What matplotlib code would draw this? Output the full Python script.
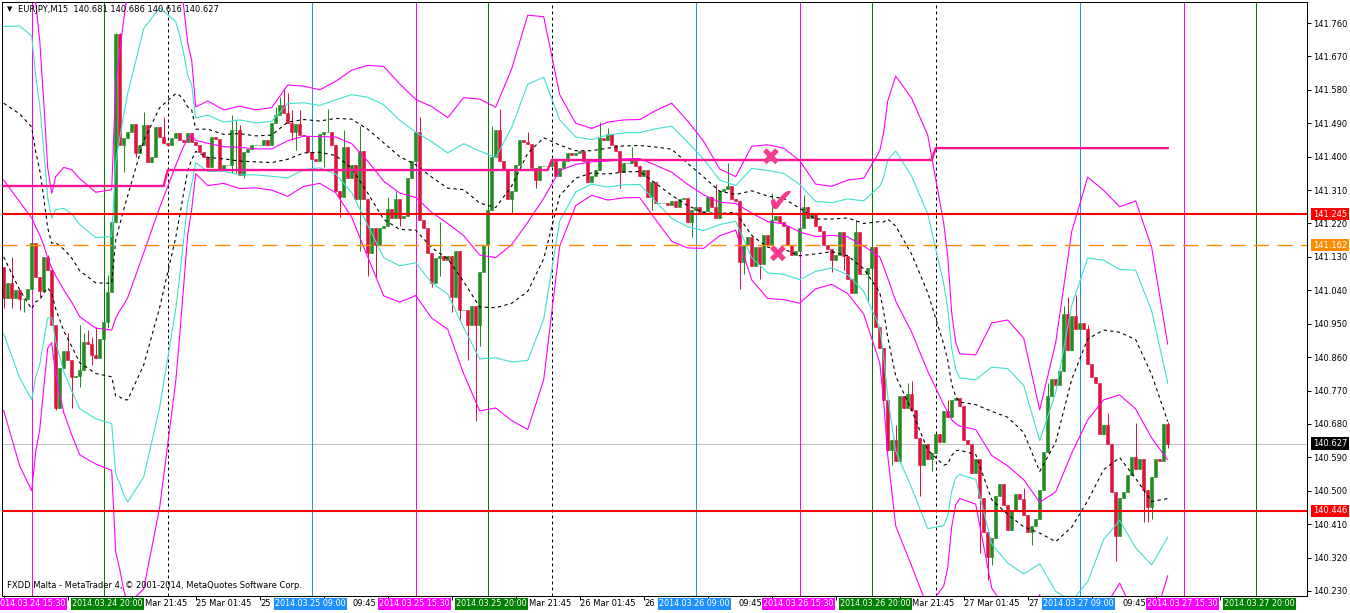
import matplotlib
matplotlib.use("Agg")
import matplotlib.pyplot as plt
import numpy as np


# EURJPY M15, bar 0 = 2014.03.24 15:30, one bar every 15 minutes
FIRST_BAR = -7
FIRST_OPEN = 141.103

CLOSES = [
    141.019, 141.060, 141.019, 141.041, 141.017, 141.017, 141.044, 141.167, 141.076, 141.038,
    141.130, 141.095, 140.947, 140.723, 140.831, 140.877, 140.852, 140.806, 140.809, 140.825,
    140.901, 140.895, 140.866, 140.858, 140.909, 140.955, 141.035, 141.224, 141.730, 141.431,
    141.450, 141.466, 141.488, 141.410, 141.431, 141.485, 141.386, 141.399, 141.480, 141.453,
    141.437, 141.431, 141.450, 141.464, 141.445, 141.440, 141.464, 141.440, 141.431, 141.413,
    141.399, 141.372, 141.453, 141.448, 141.364, 141.378, 141.378, 141.472, 141.472, 141.351,
    141.413, 141.421, 141.431, 141.431, 141.431, 141.445, 141.431, 141.491, 141.512, 141.539,
    141.518, 141.491, 141.466, 141.488, 141.458, 141.456, 141.413, 141.394, 141.388, 141.461,
    141.466, 141.466, 141.431, 141.308, 141.291, 141.426, 141.343, 141.378, 141.286, 141.415,
    141.286, 141.141, 141.208, 141.162, 141.208, 141.213, 141.259, 141.235, 141.286, 141.235,
    141.240, 141.343, 141.388, 141.466, 141.229, 141.208, 141.141, 141.060, 141.127, 141.132,
    141.122, 141.132, 141.022, 141.146, 140.987, 140.987, 140.947, 140.998, 140.947, 141.089,
    141.162, 141.256, 141.399, 141.472, 141.388, 141.364, 141.286, 141.308, 141.378, 141.445,
    141.440, 141.434, 141.369, 141.337, 141.375, 141.375, 141.375, 141.388, 141.348, 141.369,
    141.388, 141.410, 141.404, 141.410, 141.415, 141.388, 141.332, 141.348, 141.364, 141.450,
    141.445, 141.461, 141.431, 141.415, 141.359, 141.383, 141.383, 141.388, 141.375, 141.348,
    141.364, 141.291, 141.332, 141.275, 141.275, 141.275, 141.270, 141.281, 141.264, 141.286,
    141.289, 141.224, 141.256, 141.264, 141.251, 141.254, 141.291, 141.264, 141.235, 141.308,
    141.313, 141.321, 141.286, 141.281, 141.116, 141.162, 141.184, 141.105, 141.157, 141.111,
    141.189, 141.162, 141.229, 141.240, 141.224, 141.213, 141.162, 141.135, 141.146, 141.208,
    141.264, 141.235, 141.246, 141.213, 141.200, 141.162, 141.151, 141.122, 141.135, 141.197,
    141.132, 141.070, 141.033, 141.197, 141.084, 141.084, 141.100, 141.157, 140.941, 140.885,
    140.744, 140.610, 140.637, 140.580, 140.755, 140.723, 140.761, 140.718, 140.642, 140.569,
    140.626, 140.586, 140.602, 140.653, 140.631, 140.715, 140.699, 140.744, 140.750, 140.728,
    140.637, 140.626, 140.548, 140.586, 140.481, 140.389, 140.322, 140.373, 140.486, 140.518,
    140.462, 140.394, 140.446, 140.491, 140.478, 140.435, 140.389, 140.405, 140.424, 140.502,
    140.604, 140.755, 140.801, 140.785, 140.823, 140.976, 140.879, 140.971, 140.936, 140.952,
    140.936, 140.842, 140.806, 140.790, 140.653, 140.677, 140.626, 140.497, 140.378, 140.481,
    140.497, 140.542, 140.591, 140.559, 140.586, 140.502, 140.456, 140.537, 140.586, 140.580,
    140.681, 140.627,
]

# visible wicks (bar -> price)
HIGHS = {
    -5: 141.130, 4: 141.135, 9: 140.925, 12: 140.947, 13: 140.925, 14: 140.933,
    15: 140.914, 16: 140.941, 19: 141.081, 21: 141.733, 22: 141.733, 28: 141.520,
    33: 141.507, 50: 141.512, 51: 141.499, 52: 141.485, 61: 141.534, 62: 141.561,
    63: 141.585, 64: 141.571, 65: 141.526, 67: 141.526, 74: 141.528, 78: 141.472,
    82: 141.483, 89: 141.291, 91: 141.308, 97: 141.507, 102: 141.224, 115: 141.483,
    117: 141.528, 124: 141.466, 142: 141.493, 144: 141.477, 150: 141.426,
    171: 141.326, 174: 141.383, 185: 141.302, 193: 141.297, 206: 141.229,
    216: 140.677, 219: 140.790, 220: 140.796, 229: 140.744, 248: 140.507,
    254: 140.790, 258: 140.998, 259: 141.022, 261: 141.027, 264: 140.947,
    269: 140.709, 276: 140.683, 284: 140.686,
}
LOWS = {
    -7: 140.992, -5: 140.992, -3: 140.987, -2: 140.982, 2: 141.022, 6: 140.718,
    10: 140.723, 12: 140.780, 15: 140.839, 19: 140.938, 23: 141.359, 26: 141.399,
    50: 141.356, 51: 141.356, 53: 141.343, 65: 141.445, 66: 141.418, 73: 141.372,
    77: 141.237, 82: 141.146, 84: 141.079, 86: 141.076, 92: 141.213, 100: 141.049,
    102: 141.079, 105: 140.982, 107: 140.960, 109: 140.852, 111: 140.688,
    112: 140.890, 120: 141.246, 126: 141.316, 147: 141.316, 155: 141.256,
    165: 141.184, 177: 141.044, 178: 141.084, 182: 141.070, 200: 141.089,
    203: 141.095, 209: 141.008, 215: 140.569, 222: 140.486, 225: 140.553,
    237: 140.332, 239: 140.260, 240: 140.299, 250: 140.354, 271: 140.311,
    278: 140.416, 279: 140.416, 280: 140.424, 284: 140.616,
}

# Bollinger bands: middle line and one deviation, read at these bars
BB_BARS = [
    -7, -3, 0, 1, 2, 3, 4, 5, 6, 8, 10, 12, 16, 20, 21, 22, 23, 24, 28, 32,
    36, 37, 38, 39, 40, 41, 44, 48, 52, 56, 60, 64, 68, 72, 76, 80, 84, 88, 92, 96,
    100, 104, 108, 112, 116, 120, 124, 128, 132, 136, 140, 144, 148, 152, 156, 160,
    164, 168, 172, 176, 180, 184, 188, 192, 196, 200, 204, 208, 212, 213, 214, 216,
    220, 224, 228, 229, 230, 231, 232, 236, 240, 244, 248, 252, 256, 260, 264, 268,
    272, 276, 280, 284,
]
BB_MID = [
    141.337, 141.278, 141.235, 141.211, 141.189, 141.162, 141.127, 141.100, 141.079, 141.041,
    141.008, 140.969, 140.938, 140.933, 140.965, 140.985, 141.001, 141.020, 141.141, 141.263,
    141.376, 141.403, 141.428, 141.448, 141.459, 141.444, 141.436, 141.427, 141.425, 141.421,
    141.421, 141.443, 141.455, 141.454, 141.453, 141.435, 141.388, 141.334, 141.302, 141.290,
    141.250, 141.220, 141.187, 141.135, 141.128, 141.163, 141.223, 141.288, 141.363, 141.379,
    141.386, 141.388, 141.394, 141.395, 141.377, 141.358, 141.325, 141.297, 141.277, 141.274,
    141.248, 141.225, 141.219, 141.197, 141.185, 141.188, 141.184, 141.159, 141.130, 141.103,
    141.073, 141.011, 140.927, 140.822, 140.732, 140.712, 140.691, 140.681, 140.674, 140.665,
    140.595, 140.567, 140.530, 140.469, 140.497, 140.601, 140.691, 140.745, 140.758, 140.720,
    140.642, 140.583,
]
BB_DEV = [
    0.207, 0.237, 0.245, 0.202, 0.175, 0.129, 0.081, 0.067, 0.089, 0.110,
    0.119, 0.124, 0.122, 0.126, 0.210, 0.232, 0.256, 0.275, 0.302, 0.269,
    0.194, 0.162, 0.125, 0.086, 0.067, 0.030, 0.038, 0.033, 0.037, 0.035,
    0.037, 0.050, 0.045, 0.042, 0.050, 0.066, 0.086, 0.103, 0.098, 0.088,
    0.095, 0.095, 0.124, 0.140, 0.135, 0.158, 0.186, 0.163, 0.068, 0.037,
    0.030, 0.035, 0.035, 0.035, 0.049, 0.062, 0.057, 0.048, 0.030, 0.024,
    0.060, 0.069, 0.068, 0.064, 0.047, 0.044, 0.051, 0.061, 0.095, 0.121,
    0.159, 0.202, 0.210, 0.212, 0.163, 0.140, 0.096, 0.073, 0.065, 0.067,
    0.119, 0.131, 0.127, 0.083, 0.134, 0.199, 0.218, 0.188, 0.169, 0.187,
    0.171, 0.104,
]

# daily pivot-style level, one value per day
PIVOT_START = [-7, 34, 130, 226]
PIVOT_LEVEL = [141.321, 141.364, 141.391, 141.423]
LAST_BAR = 284

RED_LEVELS = [141.245, 140.446]
ORANGE_LEVEL = 141.162
BID = 140.627
HEADER = "EURJPY,M15  140.681 140.686 140.616 140.627"
FOOTER = "FXDD Malta - MetaTrader 4, \u00a9 2001-2014, MetaQuotes Software Corp."

SESSION_BARS = [0, 18, 70, 96, 114, 166, 192, 210, 262, 288, 306]
SESSION_TEXT = [
    "2014.03.24 15:30", "2014.03.24 20:00", "2014.03.25 09:00", "2014.03.25 15:30",
    "2014.03.25 20:00", "2014.03.26 09:00", "2014.03.26 15:30", "2014.03.26 20:00",
    "2014.03.27 09:00", "2014.03.27 15:30", "2014.03.27 20:00",
]
SESSION_KIND = ["ny", "close", "eu", "ny", "close", "eu", "ny", "close", "eu", "ny", "close"]
DAY_BARS = [34, 130, 226]

# time scale ticks every 16 bars; only the parts of the labels left uncovered
# by the session boxes are visible
TIME_TICK_BARS = [-7, 9, 25, 41, 57, 73, 89, 105, 121, 137, 153, 169, 185, 201, 217, 233,
                  249, 265, 281, 297]
TIME_LABEL_BARS = [28.4, 41.1, 57.1, 80.2, 124.3, 137.1, 153.1, 176.6, 220.1, 233.1,
                   249.1, 272.6]
TIME_LABEL_TEXT = ["Mar 21:45", "25 Mar 01:45", "25", "09:45",
                   "Mar 21:45", "26 Mar 01:45", "26", "09:45",
                   "Mar 21:45", "27 Mar 01:45", "27", "09:45"]

PRICE_TICKS = [140.230, 140.320, 140.410, 140.500, 140.590, 140.680, 140.770, 140.860,
               140.950, 141.040, 141.130, 141.220, 141.310, 141.400, 141.490, 141.580,
               141.670, 141.760]

MARK_TEXT = ["\u2716", "\u2714", "\u2716"]
MARK_BAR = [184.8, 187.0, 186.6]
MARK_PRICE = [141.395, 141.276, 141.134]


BULL = "#228B22"
BEAR = "#DC143C"
MAGENTA = "#FF00FF"
CYAN = "#40E0D0"
SESSION_COLORS = {"ny": "#FF00FF", "close": "#008000", "eu": "#1E90FF"}
SESSION_SHIFT = {"ny": -0.3, "close": 0.95, "eu": -0.3}

W, H = 1350, 613
PX = 0.72  # one pixel in points


def candle_arrays():
    closes = np.array(CLOSES)
    bars = np.arange(FIRST_BAR, FIRST_BAR + len(closes))
    opens = np.concatenate([[FIRST_OPEN], closes[:-1]])
    highs = np.maximum(opens, closes)
    lows = np.minimum(opens, closes)
    for bar, value in HIGHS.items():
        highs[bar - FIRST_BAR] = max(highs[bar - FIRST_BAR], value)
    for bar, value in LOWS.items():
        lows[bar - FIRST_BAR] = min(lows[bar - FIRST_BAR], value)
    return bars, opens, highs, lows, closes


def draw_candles(ax):
    bars, opens, highs, lows, closes = candle_arrays()
    up = closes >= opens
    for mask, color in [(up, BULL), (~up, BEAR)]:
        ax.vlines(bars[mask], lows[mask], highs[mask], color=color, lw=PX, zorder=2)
        ax.bar(bars[mask], closes[mask] - opens[mask], bottom=opens[mask], width=0.72,
               color=color, edgecolor=color, linewidth=0.4, zorder=2)


def draw_bands(ax):
    x = np.array(BB_BARS)
    mid = np.array(BB_MID)
    dev = np.array(BB_DEV)
    ax.plot(x, mid, color=MAGENTA, lw=0.8, zorder=3)
    for k, color, style in [(1, "black", (0, (3, 3))), (2, CYAN, "-"), (3, MAGENTA, "-")]:
        ax.plot(x, mid + k * dev, color=color, lw=0.8, ls=style, zorder=3)
        ax.plot(x, mid - k * dev, color=color, lw=0.8, ls=style, zorder=3)


def draw_levels(ax):
    px, py = [], []
    ends = PIVOT_START[1:] + [LAST_BAR + 1]
    for start, end, level in zip(PIVOT_START, ends, PIVOT_LEVEL):
        px += [start, end - 1]
        py += [level, level]
    ax.plot(px, py, color="#FF1493", lw=1.7, zorder=4)

    for level in RED_LEVELS:
        ax.axhline(level, color="#FF0000", lw=1.5, zorder=4)
    ax.axhline(ORANGE_LEVEL, color="#FF8C00", lw=1.0, ls=(0, (11, 6)), zorder=4)
    ax.axhline(BID, color="#C0C0C0", lw=PX, zorder=1)

    for bar, kind in zip(SESSION_BARS, SESSION_KIND):
        ax.axvline(bar, color=SESSION_COLORS[kind], lw=PX, zorder=1)
    for bar in DAY_BARS:
        ax.axvline(bar, color="black", lw=PX, ls=(0, (3, 3)), zorder=1)

    for text, bar, price in zip(MARK_TEXT, MARK_BAR, MARK_PRICE):
        size = 24 if text == "\u2714" else 17
        ax.text(bar, price, text, color="#F73A8C", fontsize=size,
                ha="center", va="center", zorder=6)


def draw_axes_text(ax, fig):
    ax.yaxis.set_ticks_position("right")
    ax.set_yticks(PRICE_TICKS)
    ax.set_yticklabels([f"{p:.3f}" for p in PRICE_TICKS])
    ax.tick_params(axis="y", direction="out", length=3, width=PX, pad=1.5,
                   labelsize=6, colors="black")
    ax.set_xticks(TIME_TICK_BARS)
    ax.set_xticklabels([])
    ax.tick_params(axis="x", direction="out", length=3, width=PX)

    label_y = -8 / 594
    xform = ax.get_xaxis_transform()
    for bar, text in zip(TIME_LABEL_BARS, TIME_LABEL_TEXT):
        ax.text(bar, label_y, text, transform=xform, ha="left", va="center",
                fontsize=6, clip_on=False, zorder=3)
    for bar, text, kind in zip(SESSION_BARS, SESSION_TEXT, SESSION_KIND):
        ax.text(bar + SESSION_SHIFT[kind], label_y, text, transform=xform,
                ha="center", va="center", fontsize=5.8, color="white",
                clip_on=False, zorder=5,
                bbox=dict(boxstyle="square,pad=0.2", fc=SESSION_COLORS[kind], ec="none"))

    yform = ax.get_yaxis_transform()
    tags = [(RED_LEVELS[0], "#FF0000"), (ORANGE_LEVEL, "#FF8C00"),
            (BID, "black"), (RED_LEVELS[1], "#FF0000")]
    for price, color in tags:
        ax.text(1.0046, price, f"{price:.3f}", transform=yform, ha="left", va="center",
                fontsize=6, color="white", clip_on=False, zorder=6,
                bbox=dict(boxstyle="square,pad=0.2", fc=color, ec="none"))

    fig.text(9.5 / W, 1 - 9 / H, "\u25bc", fontsize=5, ha="center", va="center")
    fig.text(18 / W, 1 - 10 / H, HEADER, fontsize=6, ha="left", va="center")
    fig.text(7 / W, 1 - 586 / H, FOOTER, fontsize=6, ha="left", va="center")


def main() -> None:
    fig = plt.figure(figsize=(W / 100, H / 100), dpi=100, facecolor="white")
    ax = fig.add_axes([2 / W, 17 / H, 1305 / W, 594 / H])
    ax.set_xlim(-7.425, 318.825)
    ax.set_ylim(140.2165, 141.8166)
    for spine in ax.spines.values():
        spine.set_linewidth(PX)

    draw_levels(ax)
    draw_candles(ax)
    draw_bands(ax)
    draw_axes_text(ax, fig)

    fig.savefig("out.png", dpi=100)
    plt.close(fig)


if __name__ == "__main__":
    main()
